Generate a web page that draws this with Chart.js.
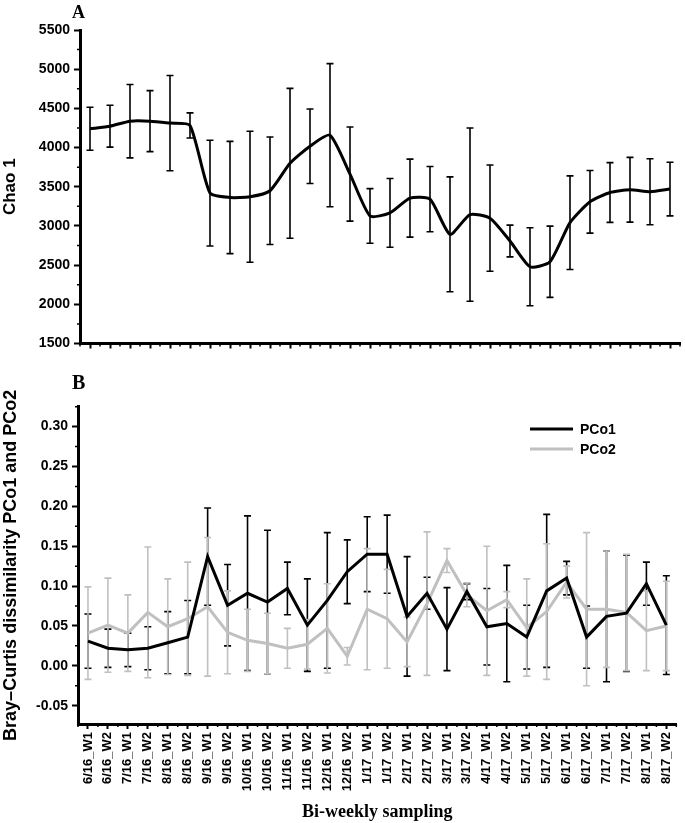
<!DOCTYPE html>
<html>
<head>
<meta charset="utf-8">
<script src="https://cdn.jsdelivr.net/npm/chart.js@4.4.0/dist/chart.umd.min.js"></script>
<style>
  body { margin: 0; background: #fff; }
  #wrapA { position: absolute; left: 0; top: 0; width: 685px; height: 360px; }
  #wrapB { position: absolute; left: 0; top: 360px; width: 685px; height: 463px; }
</style>
</head>
<body>
<div id="wrapA"><canvas id="chartA" width="685" height="360"></canvas></div>
<div id="wrapB"><canvas id="chartB" width="685" height="463"></canvas></div>
<script>
// sampling dates
const labels = ['6/16_W1', '6/16_W2', '7/16_W1', '7/16_W2', '8/16_W1', '8/16_W2',
  '9/16_W1', '9/16_W2', '10/16_W1', '10/16_W2', '11/16_W1', '11/16_W2',
  '12/16_W1', '12/16_W2', '1/17_W1', '1/17_W2', '2/17_W1', '2/17_W2',
  '3/17_W1', '3/17_W2', '4/17_W1', '4/17_W2', '5/17_W1', '5/17_W2',
  '6/17_W1', '6/17_W2', '7/17_W1', '7/17_W2', '8/17_W1', '8/17_W2'];

// panel A - Chao 1
const chao1 = [4240, 4273, 4337, 4337, 4312, 4282, 3419, 3363, 3372, 3449, 3799, 4017,
  4158, 3662, 3128, 3167, 3355, 3342, 2893, 3145, 3099, 2808, 2479, 2543,
  3042, 3308, 3427, 3462, 3436, 3470];
const chao1Err = [274, 267, 468, 389, 607, 160, 675, 716, 836, 686, 956, 475,
  913, 601, 348, 438, 498, 417, 733, 1105, 678, 203, 498, 455,
  597, 400, 381, 413, 421, 342];

// panel B - Bray-Curtis PCo1 / PCo2
const pco1 = [0.031, 0.022, 0.020, 0.022, 0.029, 0.036, 0.137, 0.076, 0.091, 0.080, 0.097, 0.051,
  0.082, 0.118, 0.140, 0.140, 0.062, 0.091, 0.046, 0.093, 0.049, 0.053, 0.036, 0.094,
  0.110, 0.036, 0.062, 0.066, 0.103, 0.051];
const pco1Err = [0.034, 0.024, 0.021, 0.027, 0.039, 0.046, 0.061, 0.051, 0.097, 0.090, 0.033, 0.058,
  0.085, 0.040, 0.047, 0.049, 0.075, 0.020, 0.052, 0.010, 0.048, 0.073, 0.040, 0.096,
  0.021, 0.039, 0.082, 0.073, 0.027, 0.062];
const pco2 = [0.041, 0.051, 0.041, 0.067, 0.049, 0.059, 0.074, 0.042, 0.032, 0.028, 0.022, 0.027,
  0.047, 0.012, 0.071, 0.059, 0.030, 0.078, 0.132, 0.089, 0.069, 0.083, 0.048, 0.068,
  0.105, 0.071, 0.071, 0.067, 0.044, 0.050];
const pco2Err = [0.058, 0.059, 0.048, 0.082, 0.060, 0.071, 0.087, 0.052, 0.039, 0.038, 0.025, 0.031,
  0.056, 0.011, 0.076, 0.062, 0.031, 0.090, 0.015, 0.015, 0.081, 0.010, 0.061, 0.085,
  0.020, 0.096, 0.073, 0.073, 0.050, 0.056];

// axis ticks
const yTicksA = [1500, 2000, 2500, 3000, 3500, 4000, 4500, 5000, 5500];
const yMinorA = [1750, 2250, 2750, 3250, 3750, 4250, 4750, 5250];
const yTicksB = [-0.05, 0, 0.05, 0.10, 0.15, 0.20, 0.25, 0.30];
const yMinorB = [-0.025, 0.025, 0.075, 0.125, 0.175, 0.225, 0.275, 0.325];

const sans = "'Liberation Sans', Arial, sans-serif";
const serif = "'Liberation Serif', 'Times New Roman', serif";
const grey = 'rgb(192,192,192)';

Chart.defaults.font.family = sans;
Chart.defaults.color = '#000';

// error bars drawn under the lines
const errorBars = {
  id: 'errorBars',
  beforeDatasetsDraw(chart) {
    const ctx = chart.ctx;
    const y = chart.scales.y;
    chart.data.datasets.forEach((ds, i) => {
      const meta = chart.getDatasetMeta(i);
      ctx.save();
      ctx.strokeStyle = ds.borderColor;
      ctx.lineWidth = 1.6;
      ctx.beginPath();
      meta.data.forEach((pt, j) => {
        const top = y.getPixelForValue(ds.data[j] + ds.errors[j]);
        const bot = y.getPixelForValue(ds.data[j] - ds.errors[j]);
        ctx.moveTo(pt.x, top); ctx.lineTo(pt.x, bot);
        ctx.moveTo(pt.x - 3.5, top); ctx.lineTo(pt.x + 3.5, top);
        ctx.moveTo(pt.x - 3.5, bot); ctx.lineTo(pt.x + 3.5, bot);
      });
      ctx.stroke();
      ctx.restore();
    });
  }
};

// small ticks between the labelled ones + panel letter + legend
const extras = {
  id: 'extras',
  afterDraw(chart, args, opts) {
    const {ctx, scales: {x, y}} = chart;
    ctx.save();
    ctx.strokeStyle = '#000';
    ctx.lineWidth = 1.5;
    ctx.beginPath();
    opts.minor.forEach(v => {
      const py = y.getPixelForValue(v);
      ctx.moveTo(y.right, py); ctx.lineTo(y.right - 3, py);
    });
    const step = x.getPixelForValue(1) - x.getPixelForValue(0);
    for (let i = 0; i <= labels.length; i++) {
      const px = x.getPixelForValue(i) - step / 2;
      ctx.moveTo(px, x.top); ctx.lineTo(px, x.top + 3);
    }
    ctx.stroke();

    ctx.fillStyle = '#000';
    ctx.font = 'bold ' + opts.letterSize + 'px ' + serif;
    ctx.textBaseline = 'alphabetic';
    ctx.fillText(opts.letter, 72, opts.letterY);

    if (opts.legend) {
      ctx.font = 'bold 14px ' + sans;
      ctx.textBaseline = 'middle';
      chart.data.datasets.forEach((ds, i) => {
        const ly = 69 + i * 20;
        ctx.strokeStyle = ds.borderColor;
        ctx.lineWidth = 3;
        ctx.beginPath();
        ctx.moveTo(530, ly); ctx.lineTo(573, ly);
        ctx.stroke();
        ctx.fillText(ds.label, 580, ly + 1);
      });
    }
    ctx.restore();
  }
};

const axisGrid = {display: true, drawOnChartArea: false, drawTicks: true, tickLength: 6, tickWidth: 2, color: '#000'};

new Chart(document.getElementById('chartA'), {
  type: 'line',
  data: {
    labels: labels,
    datasets: [{
      label: 'Chao 1',
      data: chao1,
      errors: chao1Err,
      borderColor: '#000',
      borderWidth: 3,
      pointRadius: 0,
      tension: 0.2,
      fill: false
    }]
  },
  options: {
    responsive: false,
    animation: false,
    layout: {padding: {top: 30, right: 5, left: 0, bottom: 0}},
    plugins: {
      legend: {display: false},
      tooltip: {enabled: false},
      extras: {minor: yMinorA, letter: 'A', letterSize: 18, letterY: 18}
    },
    scales: {
      x: {
        offset: true,
        grid: {...axisGrid, offset: false, tickLength: 5},
        border: {display: true, color: '#000', width: 3},
        ticks: {display: false},
        afterFit: s => { s.height = 16.5; }
      },
      y: {
        min: 1500, max: 5500,
        afterBuildTicks: s => { s.ticks = yTicksA.map(v => ({value: v})); },
        ticks: {font: {size: 14, weight: 'bold'}, padding: 4, callback: v => String(v)},
        grid: axisGrid,
        border: {display: true, color: '#000', width: 3},
        title: {display: true, text: 'Chao 1', font: {size: 17, weight: 'bold'}, padding: {top: 0, bottom: 0}},
        afterFit: s => { s.width = 80; }
      }
    }
  },
  plugins: [errorBars, extras]
});

new Chart(document.getElementById('chartB'), {
  type: 'line',
  data: {
    labels: labels,
    datasets: [{
      label: 'PCo1',
      data: pco1,
      errors: pco1Err,
      borderColor: '#000',
      borderWidth: 3,
      pointRadius: 0,
      tension: 0,
      fill: false
    }, {
      label: 'PCo2',
      data: pco2,
      errors: pco2Err,
      borderColor: grey,
      borderWidth: 3,
      pointRadius: 0,
      tension: 0,
      fill: false
    }]
  },
  options: {
    responsive: false,
    animation: false,
    layout: {padding: {top: 46.7, right: 3, left: 0, bottom: 0}},
    plugins: {
      legend: {display: false},
      tooltip: {enabled: false},
      extras: {minor: yMinorB, letter: 'B', letterSize: 20, letterY: 29, legend: true}
    },
    scales: {
      x: {
        offset: true,
        grid: {...axisGrid, offset: false, tickLength: 5},
        border: {display: true, color: '#000', width: 3},
        ticks: {autoSkip: false, maxRotation: 90, minRotation: 90, font: {size: 13, weight: 'bold'}, padding: 3},
        title: {display: true, text: 'Bi-weekly sampling', font: {family: serif, size: 18, weight: 'bold'}, padding: {top: 0, bottom: 0}},
        afterFit: s => { s.height = 99; }
      },
      y: {
        min: -0.073, max: 0.325,
        afterBuildTicks: s => { s.ticks = yTicksB.map(v => ({value: v})); },
        ticks: {font: {size: 14, weight: 'bold'}, padding: 4, callback: v => v.toFixed(2)},
        grid: axisGrid,
        border: {display: true, color: '#000', width: 3},
        title: {display: true, text: 'Bray\u2013Curtis dissimilarity PCo1 and PCo2', font: {size: 18, weight: 'bold'}, padding: {top: 0, bottom: 0}},
        afterFit: s => { s.width = 78; }
      }
    }
  },
  plugins: [errorBars, extras]
});
</script>
</body>
</html>
